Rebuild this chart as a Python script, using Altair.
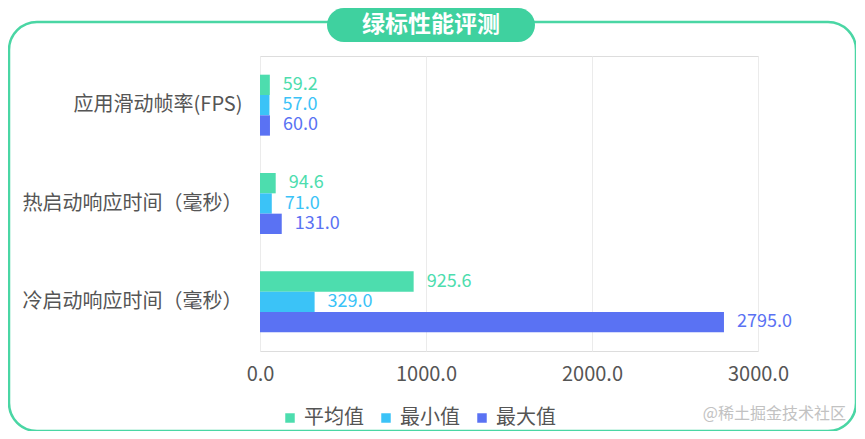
import altair as alt
import pandas as pd

categories = ["应用滑动帧率(FPS)", "热启动响应时间（毫秒）", "冷启动响应时间（毫秒）"]
series = ["平均值", "最小值", "最大值"]
avg_vals = [59.2, 94.6, 925.6]
min_vals = [57.0, 71.0, 329.0]
max_vals = [60.0, 131.0, 2795.0]
colors = ["#4DDDAE", "#3BC3F7", "#5A72F3"]
tick_values = [0, 1000, 2000, 3000]
title_text = "绿标性能评测"
watermark = "@稀土掘金技术社区"

rows = []
for s, vals in zip(series, [avg_vals, min_vals, max_vals]):
    for c, v in zip(categories, vals):
        rows.append({"category": c, "series": s, "value": v})
df = pd.DataFrame(rows)
deco = pd.DataFrame({"t": [title_text], "w": [watermark]})

FONT = "Noto Sans CJK SC"

x_enc = alt.X("value:Q", scale=alt.Scale(domain=[0, 3000], nice=False),
              axis=alt.Axis(values=tick_values, format=".1f", title=None,
                            labelFontSize=20, labelColor="#555555", labelPadding=13,
                            labelFlush=False, labelOverlap=False,
                            domain=False, ticks=False, grid=True, gridColor="#ebebeb"))
y_enc = alt.Y("category:N", sort=categories,
              scale=alt.Scale(paddingInner=0.38, paddingOuter=0.19),
              axis=alt.Axis(title=None, labelFontSize=20, labelColor="#555555",
                            labelPadding=18, domain=False, ticks=False, grid=False,
                            labelLimit=400))
yoff_enc = alt.YOffset("series:N", sort=series,
                       scale=alt.Scale(domain=series, paddingInner=0, paddingOuter=0))
color_scale = alt.Scale(domain=series, range=colors)

bars = alt.Chart(df).mark_bar().encode(
    x=x_enc, y=y_enc, yOffset=yoff_enc,
    color=alt.Color("series:N", sort=series, scale=color_scale,
                    legend=alt.Legend(title=None, orient="none", legendX=20, legendY=352,
                                      direction="horizontal", symbolType="square",
                                      symbolSize=90, labelFontSize=20, labelColor="#555555",
                                      columnPadding=12, labelOffset=4, symbolStrokeWidth=0)),
)

labels = alt.Chart(df).mark_text(align="left", baseline="middle", dx=13, fontSize=18).encode(
    x=x_enc, y=y_enc, yOffset=yoff_enc,
    text=alt.Text("value:Q", format=".1f"),
    color=alt.Color("series:N", sort=series, scale=color_scale, legend=None),
)

border = alt.Chart(deco).mark_rect(fill="transparent", stroke="#4AD6A4", strokeWidth=2.5,
                                   cornerRadius=28).encode(
    x=alt.value(-251), x2=alt.value(596), y=alt.value(-34), y2=alt.value(375))

pill = alt.Chart(deco).mark_rect(fill="#3FD19F", cornerRadius=17).encode(
    x=alt.value(67), x2=alt.value(275), y=alt.value(-48), y2=alt.value(-14))

title = alt.Chart(deco).mark_text(color="white", fontSize=23, fontWeight="bold",
                                  baseline="middle", align="center").encode(
    x=alt.value(171), y=alt.value(-31), text="t:N")

wm = alt.Chart(deco).mark_text(color="#c2c2c2", fontSize=16, align="right",
                               baseline="middle").encode(
    x=alt.value(586), y=alt.value(358), text="w:N")

chart = alt.layer(border, pill, title, bars, labels, wm).properties(
    width=498, height=295,
    autosize=alt.AutoSizeParams(type="none"),
    padding={"left": 252, "top": 48, "right": 98, "bottom": 80},
    background="white",
).configure_view(stroke=None).configure(font=FONT)

chart.save("out.html", embed_options={"renderer": "svg", "actions": False})
